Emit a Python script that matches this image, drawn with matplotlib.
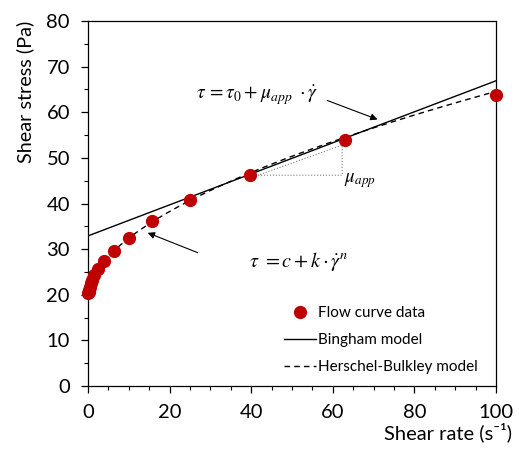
import matplotlib
matplotlib.use("Agg")
import matplotlib.pyplot as plt
import numpy as np
from matplotlib.ticker import MultipleLocator

# Data
shear_rate = [0.1, 0.158, 0.251, 0.398, 0.631, 1.0, 1.58, 2.51, 3.98, 6.31, 10.0, 15.8, 25.1, 39.8, 63.1, 100.0]
shear_stress = [20.3, 20.6, 21.1, 21.7, 22.5, 23.3, 24.4, 25.6, 27.4, 29.6, 32.4, 36.1, 40.7, 46.3, 53.9, 63.7]

# Model parameters
tau0 = 32.9
mu_app = 0.34
hb_c = 19.9
hb_k = 3.5
hb_n = 0.553

x_ticks = [0, 20, 40, 60, 80, 100]
y_ticks = [0, 10, 20, 30, 40, 50, 60, 70, 80]

plt.rcParams['font.family'] = ['Lato', 'DejaVu Sans']
plt.rcParams['mathtext.fontset'] = 'stix'

fig = plt.figure(figsize=(5.19, 4.49), dpi=100)
ax = fig.add_axes([88/519, 1-386/449, (496-88)/519, (386-21)/449])

xm = np.linspace(0, 100, 400)
ax.plot(xm, tau0 + mu_app*xm, color='black', lw=1.0, label='Bingham model')
ax.plot(xm, hb_c + hb_k*xm**hb_n, color='black', lw=1.0, ls=(0, (4, 3)), label='Herschel-Bulkley model')
ax.plot(shear_rate, shear_stress, 'o', color='#C00000', ms=8.5, clip_on=False, zorder=5, label='Flow curve data')

# slope triangle
ax.plot([41.7, 62.3, 62.3, 41.7], [46.2, 46.2, 52.8, 46.2], color='#7f7f7f', lw=0.8, ls=':')
ax.text(62.8, 45.0, r'$\mu_{app}$', fontsize=13.5, va='center', ha='left')

# annotations
ax.annotate('', xy=(71.6, 58.2), xytext=(58.0, 62.8),
            arrowprops=dict(arrowstyle='-|>', color='black', lw=0.8, mutation_scale=10))
ax.text(26.5, 63.6, r'$\tau\, =\tau_0+\mu_{app}\ \cdot\dot{\gamma}$', fontsize=14, va='center', ha='left')
ax.annotate('', xy=(14.0, 33.8), xytext=(27.5, 29.0),
            arrowprops=dict(arrowstyle='-|>', color='black', lw=0.8, mutation_scale=10))
ax.text(39.5, 27.2, r'$\tau\ =c+k\cdot\dot{\gamma}^{n}$', fontsize=14.5, va='center', ha='left')

ax.set_xlim(0, 100)
ax.set_ylim(0, 80)
ax.set_xticks(x_ticks)
ax.set_yticks(y_ticks)
ax.xaxis.set_minor_locator(MultipleLocator(5))
ax.yaxis.set_minor_locator(MultipleLocator(5))
ax.tick_params(which='major', direction='out', length=5, width=0.9, labelsize=14.5, pad=8)
ax.tick_params(which='minor', direction='out', length=3, width=0.8)
for s in ax.spines.values():
    s.set_linewidth(0.9)

fig.text(512/519, 1-432/449, 'Shear rate (s\u207b\u00b9)', ha='right', va='center', fontsize=14.5)
fig.text(25/519, 1-21/449, 'Shear stress (Pa)', ha='center', va='top', rotation=90, fontsize=14.3)

h, l = ax.get_legend_handles_labels()
order = [2, 0, 1]
leg = ax.legend([h[i] for i in order], [l[i] for i in order], frameon=False, fontsize=11,
                loc='upper left', bbox_to_anchor=((278-88)/408, (386-300)/365),
                handlelength=2.1, handletextpad=0.15, labelspacing=0.85, borderaxespad=0)

fig.savefig('out.png', dpi=100)
